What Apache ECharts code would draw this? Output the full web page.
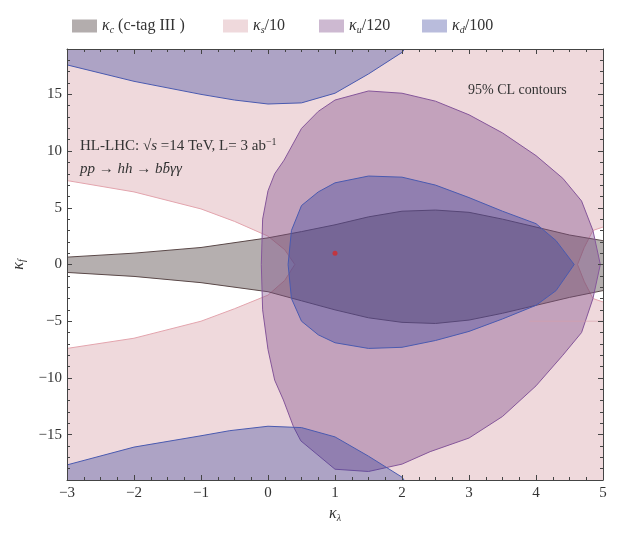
<!DOCTYPE html>
<html>
<head>
<meta charset="utf-8">
<script src="https://cdn.jsdelivr.net/npm/echarts@6/dist/echarts.min.js"></script>
<style>
html, body { margin: 0; padding: 0; background: #fff; }
#chart { width: 623px; height: 534px; }
</style>
</head>
<body>
<div id="chart"></div>
<script>
// axis ticks
const yMajor = [-15, -10, -5, 0, 5, 10, 15];
const yMinor = [-18, -17, -16, -14, -13, -12, -11, -9, -8, -7, -6, -4, -3, -2, -1,
                1, 2, 3, 4, 6, 7, 8, 9, 11, 12, 13, 14, 16, 17, 18];

// kappa_s/10 : edges of the white (excluded) holes, left and right
const ksLeftUpper = [[-3, 7.4], [-2, 6.4], [-1, 4.9], [-0.5, 3.8], [0, 2.5], [0.25, 1.3], [0.4, 0]];
const ksLeftLower = [[-3, -7.4], [-2, -6.5], [-1, -5.0], [-0.5, -3.9], [0, -2.7], [0.25, -1.4], [0.4, 0]];
const ksRightHole = [[5, 3.3], [4.85, 3.0], [4.72, 1.5], [4.62, 0], [4.72, -1.5], [4.85, -3.0], [5, -3.3]];
const ksStreak = [[3.9, -5], [5, -5]];

// kappa_c (c-tag III) band
const kcUpper = [[-3, 0.65], [-2, 1.0], [-1, 1.5], [0, 2.35], [0.5, 2.9], [1, 3.5], [1.5, 4.2],
                 [2, 4.7], [2.5, 4.8], [3, 4.6], [3.5, 4.0], [4, 3.3], [4.5, 2.6], [5, 2.1]];
const kcLower = [[-3, -0.7], [-2, -1.05], [-1, -1.6], [0, -2.4], [0.5, -3.2], [1, -4.0], [1.5, -4.7],
                 [2, -5.1], [2.5, -5.2], [3, -4.9], [3.5, -4.3], [4, -3.6], [4.5, -2.9], [5, -2.3]];

// kappa_u/120 contour
const kuContour = [[-0.1, 0], [-0.08, 4], [0, 6.5], [0.1, 8], [0.24, 9.2], [0.5, 12.0], [0.75, 13.5],
                   [1.0, 14.5], [1.5, 15.3], [2.0, 15.1], [2.5, 14.4], [3.0, 13.2], [3.5, 11.6],
                   [4.0, 9.6], [4.4, 7.6], [4.68, 5.6], [4.85, 3], [4.96, 0], [4.85, -3], [4.68, -6.0],
                   [4.4, -8.0], [4.0, -10.7], [3.5, -13.4], [3.0, -15.3], [2.42, -16.5], [2.0, -17.6],
                   [1.5, -18.25], [1.0, -18.05], [0.49, -15.55], [0.38, -14.3], [0.23, -11.95],
                   [0.1, -10.2], [0, -7.5], [-0.08, -4]];

// kappa_d/100 contours
const kdTop = [[-3, 17.6], [-2, 16.15], [-1, 15.0], [-0.5, 14.5], [0, 14.15], [0.5, 14.25],
               [1, 15.1], [1.5, 16.8], [2, 18.7], [2.04, 19]];
const kdBottom = [[-3, -17.67], [-2, -16.1], [-1, -15.1], [-0.57, -14.65], [0, -14.26], [0.5, -14.38],
                  [1, -15.2], [1.5, -16.9], [2, -18.75], [2.03, -19]];
const kdInner = [[0.3, 0], [0.35, 3], [0.5, 5.2], [0.75, 6.4], [1.0, 7.2], [1.5, 7.8], [2.0, 7.7],
                 [2.5, 7.0], [3.0, 5.9], [3.5, 4.7], [4.0, 3.6], [4.3, 2.1], [4.57, 0], [4.3, -2.3],
                 [4.0, -3.6], [3.5, -4.8], [3.0, -5.9], [2.5, -6.7], [2.0, -7.3], [1.5, -7.4],
                 [1.0, -6.9], [0.75, -6.2], [0.5, -5.0], [0.35, -3]];

// SM point
const smPoint = [[1, 1]];

const serif = 'Liberation Serif';
const minus = v => String(v).replace('-', '\u2212');

// one region = filled polygons + edge lines
function region(name, fills, lines, fill, stroke, legendColor) {
    return {
        type: 'custom',
        name: name,
        coordinateSystem: 'cartesian2d',
        itemStyle: { color: legendColor },
        data: fills[0],
        renderItem: function (params, api) {
            if (params.dataIndex !== 0) return null;
            const children = [];
            fills.forEach(p => children.push({
                type: 'polygon',
                shape: { points: p.map(q => api.coord(q)) },
                style: { fill: fill, stroke: 'none' }
            }));
            lines.forEach(l => children.push({
                type: 'polyline',
                shape: { points: l.map(q => api.coord(q)) },
                style: { fill: 'none', stroke: stroke, lineWidth: 1 }
            }));
            return { type: 'group', children: children };
        }
    };
}

const ksFill = [[-3, 19], [5, 19]].concat(ksRightHole, [[5, -19], [-3, -19]], ksLeftLower,
    ksLeftUpper.slice().reverse());
const kcFill = kcUpper.concat(kcLower.slice().reverse());
const kuLine = kuContour.concat([kuContour[0]]);
const kdInnerLine = kdInner.concat([kdInner[0]]);

const names = ['κc (c-tag III )', 'κs/10', 'κu/120', 'κd/100'];
const legendRich = {
    '0': '{k|κ}{s|c} (c-tag III )',
    '1': '{k|κ}{s|s}/10',
    '2': '{k|κ}{s|u}/120',
    '3': '{k|κ}{s|d}/100'
};
const legendLeft = [67, 218, 314, 417];

const rich = {
    k: { fontFamily: serif, fontStyle: 'italic', fontSize: 16, color: '#333' },
    s: { fontFamily: serif, fontStyle: 'italic', fontSize: 10, color: '#333', padding: [8, 0, 0, 0] }
};

const chart = echarts.init(document.getElementById('chart'));

const axisColor = '#444';
function xAx(pos, labels) {
    return {
        type: 'value', min: -3, max: 5, interval: 1, position: pos, z: 10,
        axisLine: { show: true, onZero: false, lineStyle: { color: axisColor } },
        axisTick: { show: true, inside: true, length: 5, lineStyle: { color: axisColor } },
        minorTick: { show: true, splitNumber: 4, length: 3, lineStyle: { color: axisColor } },
        splitLine: { show: false },
        axisLabel: { show: labels, formatter: minus, fontFamily: serif, fontSize: 15, color: '#333', margin: 6 },
        name: labels ? '{k|κ}{s|λ}' : '',
        nameLocation: 'middle', nameGap: 20,
        nameTextStyle: { rich: rich }
    };
}
function yAx(pos, ticks, len, labels, line) {
    return {
        type: 'value', min: -19, max: 19, position: pos, z: 10,
        axisLine: { show: line, onZero: false, lineStyle: { color: axisColor } },
        axisTick: { show: true, inside: true, length: len, customValues: ticks, lineStyle: { color: axisColor } },
        splitLine: { show: false },
        axisLabel: { show: labels, customValues: ticks, formatter: minus, fontFamily: serif, fontSize: 15, color: '#333', margin: 5 },
        name: labels ? '{k|κ}{s|f}' : '',
        nameLocation: 'middle', nameGap: 34,
        nameTextStyle: { rich: rich }
    };
}

chart.setOption({
    animation: false,
    grid: { left: 67, right: 20, top: 49, bottom: 54 },
    legend: names.map((n, i) => ({
        data: [n], left: legendLeft[i], top: 13,
        icon: 'rect', itemWidth: 25, itemHeight: 13, itemGap: 0,
        formatter: () => legendRich[i],
        textStyle: { fontFamily: serif, fontSize: 16, color: '#333', rich: rich }
    })),
    xAxis: [xAx('bottom', true), xAx('top', false)],
    yAxis: [
        yAx('left', yMajor, 5, true, true),
        yAx('right', yMajor, 5, false, true),
        yAx('left', yMinor, 3, false, false),
        yAx('right', yMinor, 3, false, false)
    ],
    graphic: [
        {
            type: 'text', left: 80, top: 137, z: 100,
            style: {
                text: 'HL-LHC: √{i|s} =14 TeV, L= 3 ab{sup|−1}',
                fontFamily: serif, fontSize: 15, fill: '#333',
                rich: {
                    i: { fontFamily: serif, fontStyle: 'italic', fontSize: 15, fill: '#333' },
                    sup: { fontFamily: serif, fontSize: 10, fill: '#333', padding: [0, 0, 9, 0] }
                }
            }
        },
        {
            type: 'text', left: 80, top: 162, z: 100,
            style: {
                text: 'pp → hh → bb\u0304γγ',
                fontFamily: serif, fontStyle: 'italic', fontSize: 15, fill: '#333'
            }
        },
        {
            type: 'text', left: 468, top: 83, z: 100,
            style: { text: '95% CL contours', fontFamily: serif, fontSize: 14, fill: '#333' }
        }
    ],
    series: [
        region(names[1], [ksFill], [ksLeftUpper, ksLeftLower, ksRightHole], '#efd9dc', '#e3a4ad', '#efd9dc'),
        region(names[0], [kcFill], [kcUpper, kcLower], 'rgba(70,55,55,0.4)', '#5a4848', '#b3adad'),
        region(names[2], [kuContour], [kuLine], 'rgba(130,80,140,0.4)', '#85569a', '#cdb9d1'),
        region(names[3], [[[-3, 19]].concat(kdTop), [[-3, -19]].concat(kdBottom), kdInner],
            [kdTop, kdBottom, kdInnerLine], 'rgba(52,64,155,0.35)', '#4a5ab0', '#b9bcdc'),
        {
            type: 'line', data: ksStreak, symbol: 'none', silent: true,
            lineStyle: { color: '#d9a0aa', width: 1, opacity: 0.6 }
        },
        {
            type: 'scatter', data: smPoint, symbolSize: 5,
            itemStyle: { color: '#d42a2a' }
        }
    ]
});
</script>
</body>
</html>
